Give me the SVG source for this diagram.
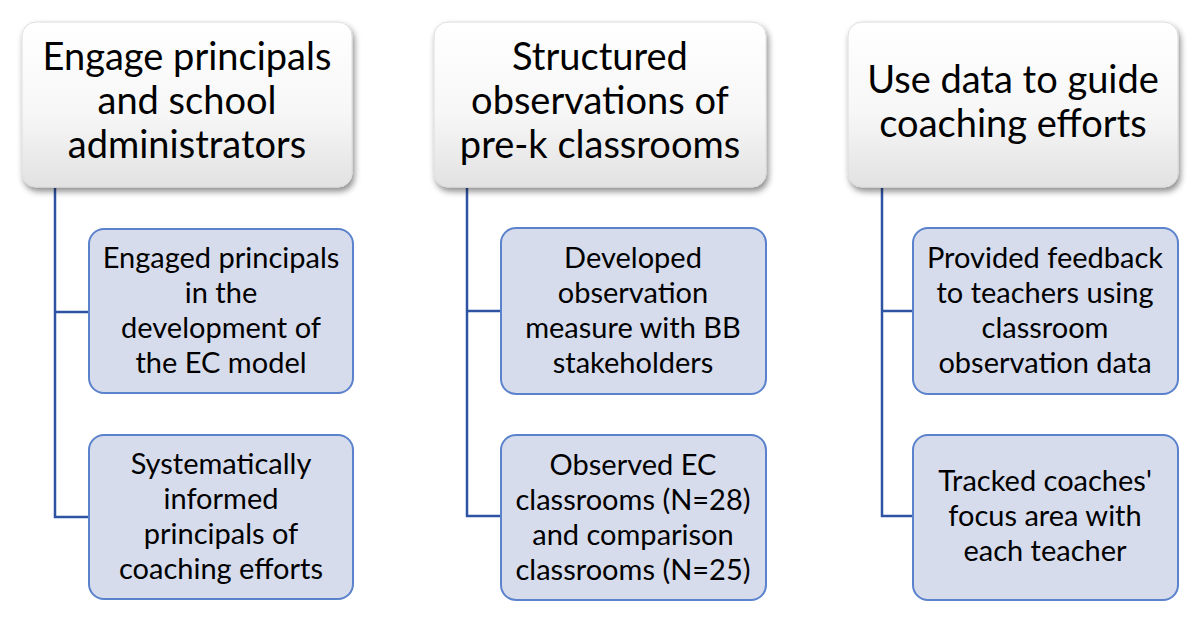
<svg xmlns="http://www.w3.org/2000/svg" width="1200" height="619" viewBox="0 0 1200 619">
<defs>
<linearGradient id="hg" x1="0" y1="0" x2="0" y2="1">
<stop offset="0" stop-color="#ffffff"/>
<stop offset="0.55" stop-color="#f7f7f7"/>
<stop offset="1" stop-color="#e2e2e2"/>
</linearGradient>
<filter id="sh" x="-10%" y="-10%" width="125%" height="135%">
<feDropShadow dx="2" dy="4" stdDeviation="3" flood-color="#000" flood-opacity="0.45"/>
</filter>
</defs>
<style>
.hdr{fill:url(#hg);stroke:#dcdcdc;stroke-width:1;filter:url(#sh)}
.chd{fill:#d6dcec;stroke:#5b82cc;stroke-width:2}
.ht{font-family:Lato,"Liberation Sans",sans-serif;font-size:38px;fill:#000;text-anchor:middle}
.ct{font-family:Lato,"Liberation Sans",sans-serif;font-size:29px;fill:#000;text-anchor:middle}
.con{fill:none;stroke:#2f53a3;stroke-width:2.5}
</style>
<rect width="1200" height="619" fill="#fff"/>
<g id="connectors">
<path class="con" d="M55 188 V517 H89 M55 312 H89"/>
<path class="con" d="M467 188 V516 H501 M467 311 H501"/>
<path class="con" d="M882 188 V516 H913 M882 311 H913"/>
</g>
<g id="h1">
<rect class="hdr" x="22" y="22" width="330" height="165" rx="14"/>
<text class="ht" x="187" y="70">Engage principals</text>
<text class="ht" x="187" y="114">and school</text>
<text class="ht" x="187" y="158">administrators</text>
</g>
<g id="h2">
<rect class="hdr" x="434" y="22" width="332" height="165" rx="14"/>
<text class="ht" x="600" y="70">Structured</text>
<text class="ht" x="600" y="114">observations of</text>
<text class="ht" x="600" y="158">pre-k classrooms</text>
</g>
<g id="h3">
<rect class="hdr" x="848" y="22" width="330" height="165" rx="14"/>
<text class="ht" x="1013" y="93">Use data to guide</text>
<text class="ht" x="1013" y="137">coaching efforts</text>
</g>
<g id="c1a">
<rect class="chd" x="89" y="229" width="264" height="164" rx="15"/>
<text class="ct" x="221" y="268">Engaged principals</text>
<text class="ct" x="221" y="303">in the</text>
<text class="ct" x="221" y="338">development of</text>
<text class="ct" x="221" y="373">the EC model</text>
</g>
<g id="c1b">
<rect class="chd" x="89" y="435" width="264" height="164" rx="15"/>
<text class="ct" x="221" y="474">Systematically</text>
<text class="ct" x="221" y="509">informed</text>
<text class="ct" x="221" y="544">principals of</text>
<text class="ct" x="221" y="579">coaching efforts</text>
</g>
<g id="c2a">
<rect class="chd" x="501" y="228" width="265" height="166" rx="15"/>
<text class="ct" x="633" y="268">Developed</text>
<text class="ct" x="633" y="303">observation</text>
<text class="ct" x="633" y="338">measure with BB</text>
<text class="ct" x="633" y="373">stakeholders</text>
</g>
<g id="c2b">
<rect class="chd" x="501" y="435" width="265" height="165" rx="15"/>
<text class="ct" x="633" y="475">Observed EC</text>
<text class="ct" x="633" y="510">classrooms (N=28)</text>
<text class="ct" x="633" y="545">and comparison</text>
<text class="ct" x="633" y="580">classrooms (N=25)</text>
</g>
<g id="c3a">
<rect class="chd" x="913" y="228" width="265" height="166" rx="15"/>
<text class="ct" x="1045" y="268">Provided feedback</text>
<text class="ct" x="1045" y="303">to teachers using</text>
<text class="ct" x="1045" y="338">classroom</text>
<text class="ct" x="1045" y="373">observation data</text>
</g>
<g id="c3b">
<rect class="chd" x="913" y="435" width="265" height="165" rx="15"/>
<text class="ct" x="1045" y="491">Tracked coaches'</text>
<text class="ct" x="1045" y="526">focus area with</text>
<text class="ct" x="1045" y="561">each teacher</text>
</g>
</svg>
